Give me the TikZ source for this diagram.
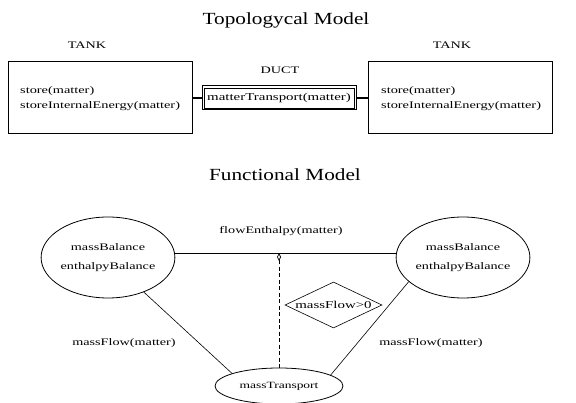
\documentclass[tikz,border=0pt]{standalone}
\usepackage{fontspec}
\setmainfont{Liberation Serif}
\newfontfamily\widefont[FakeStretch=1.42]{Liberation Serif}
\newfontfamily\titlefont[FakeStretch=1.25]{Liberation Serif}
\usetikzlibrary{shapes.geometric,arrows.meta}
\begin{document}
\begin{tikzpicture}[x=1pt,y=-1pt,
  title/.style={font=\titlefont\fontsize{17}{19}\selectfont, inner sep=0pt},
  lbl/.style={font=\widefont\fontsize{10}{12}\selectfont, inner sep=0pt},
  boxtxt/.style={font=\widefont\fontsize{10.1}{15}\selectfont, align=left, inner sep=0pt},
  tank/.style={draw, line width=1pt, minimum width=184pt, minimum height=72pt, inner sep=0pt},
  duct/.style={draw, line width=1pt, minimum width=154pt, minimum height=24pt, inner sep=0pt, font=\widefont\fontsize{10.5}{12}\selectfont},
  oval/.style={draw, ellipse, line width=0.8pt, inner sep=0pt, align=center, font=\widefont\fontsize{10}{19}\selectfont},
  cond/.style={draw, diamond, line width=0.6pt, inner sep=0pt},
  link/.style={line width=0.6pt}
]
\useasboundingbox (0,0) rectangle (576,403);
\fill[white] (0,0) rectangle (576,403);
% Topological model
\node[title] (t1) at (286,20) {Topologycal Model};
\node[lbl] (tankl) at (87,45) {TANK};
\node[lbl] (tankr) at (452,45) {TANK};
\node[lbl] (ductl) at (280,70) {DUCT};
\node[tank] (bl) at (100,98) {};
\node[tank] (br) at (460,98) {};
\node[boxtxt, anchor=west] (blt) at (20,98.5) {store(matter)\\storeInternalEnergy(matter)};
\node[boxtxt, anchor=west] (brt) at (381,98.5) {store(matter)\\storeInternalEnergy(matter)};
\node[duct] (d) at (279,98) {matterTransport(matter)};
\draw[line width=0.5pt] ([shift={(2.5,2.5)}]d.north west) rectangle ([shift={(-2.5,-2.5)}]d.south east);
\draw[line width=1.4pt] (bl.east) -- (d.west);
\draw[line width=1.4pt] (d.east) -- (br.west);
% Functional model
\node[title] (t2) at (285,175) {Functional Model};
\node[oval, minimum width=130pt, minimum height=81pt] (el) at (108,257.5) {massBalance\\enthalpyBalance};
\node[oval, minimum width=130pt, minimum height=81pt] (er) at (463,257.5) {massBalance\\enthalpyBalance};
\node[oval, minimum width=128pt, minimum height=36pt, font=\widefont\fontsize{9.5}{12}\selectfont] (mt) at (279,386) {massTransport};
\node[cond, minimum width=97pt, minimum height=46pt] (c) at (333.5,305) {};
\node[lbl, font=\widefont\fontsize{10.5}{12}\selectfont] (ct) at (c.center) {massFlow>0};
\coordinate (jd) at (279,253);
\draw[link] (el.4) -- (er.176);
\node[lbl] (fe) at (281,231) {flowEnthalpy(matter)};
\draw[line width=0.9pt, dash pattern=on 4pt off 2.5pt, {Diamond[open, length=8pt, width=4pt, line width=0.7pt]}-] (jd) -- (mt.north);
\draw[link] (el.-44) -- (mt.165);
\draw[link] (er.204) -- (mt.12);
\node[lbl] (mfl) at (124,343) {massFlow(matter)};
\node[lbl] (mfr) at (431,343) {massFlow(matter)};
\end{tikzpicture}
\end{document}
